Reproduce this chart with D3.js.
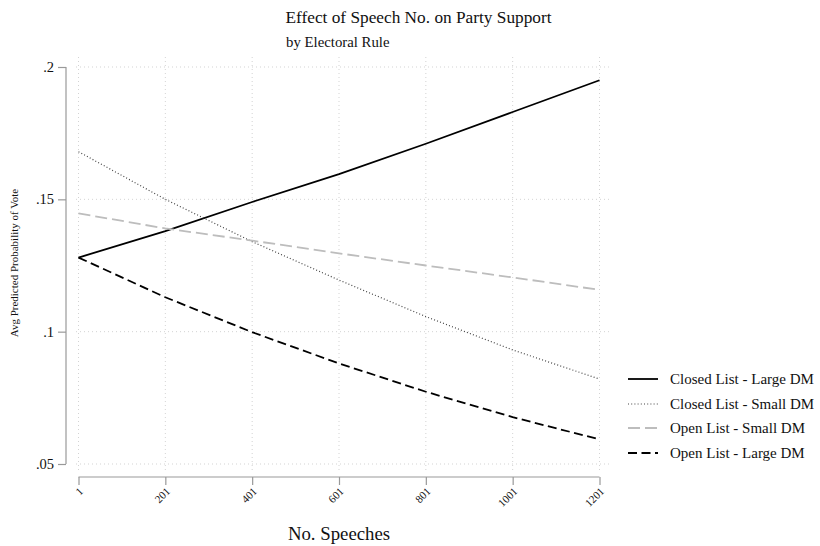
<!DOCTYPE html>
<html><head><meta charset="utf-8">
<script src="https://cdn.jsdelivr.net/npm/d3@7"></script>
<style>body{margin:0;background:#fff}svg{display:block}text{font-family:"Liberation Serif","DejaVu Serif",serif;}</style>
</head><body><svg id="c" width="820" height="546"></svg>
<script>
const speeches = [1, 201, 401, 601, 801, 1001, 1201];
const closedLarge = [0.128, 0.138, 0.149, 0.1595, 0.171, 0.183, 0.195];
const closedSmall = [0.168, 0.150, 0.134, 0.1195, 0.1057, 0.0931, 0.0821];
const openSmall = [0.1447, 0.139, 0.1344, 0.1296, 0.125, 0.1205, 0.1158];
const openLarge = [0.128, 0.113, 0.0998, 0.088, 0.0773, 0.0677, 0.0593];
const seriesNames = ["Closed List - Large DM", "Closed List - Small DM", "Open List - Small DM", "Open List - Large DM"];
const yTicks = [0.05, 0.1, 0.15, 0.2];
const yTickLabels = [".05", ".1", ".15", ".2"];

const series = [
  {name: seriesNames[0], values: closedLarge, color: "#000", dash: null, width: 1.8},
  {name: seriesNames[1], values: closedSmall, color: "#444", dash: "1,2.2", width: 1.2},
  {name: seriesNames[2], values: openSmall, color: "#bdbdbd", dash: "12,5", width: 1.8},
  {name: seriesNames[3], values: openLarge, color: "#000", dash: "9,4.5", width: 1.8}
];

const svg = d3.select("#c");
const x = d3.scaleLinear().domain([1, 1201]).range([78.5, 599.5]);
const y = d3.scaleLinear().domain([0.05, 0.2]).range([464, 67]);

// grid
const grid = svg.append("g");
yTicks.forEach(t => grid.append("line").attr("x1", 76).attr("x2", 611).attr("y1", y(t)).attr("y2", y(t))
  .attr("stroke", "#c8c8c8").attr("stroke-width", 0.8).attr("stroke-dasharray", "1,3"));
speeches.forEach(s => grid.append("line").attr("x1", x(s)).attr("x2", x(s)).attr("y1", 57).attr("y2", 471)
  .attr("stroke", "#c8c8c8").attr("stroke-width", 0.8).attr("stroke-dasharray", "1,3"));

// y axis
const yAxis = d3.axisLeft(y).tickValues(yTicks).tickFormat((d, i) => yTickLabels[i]).tickSize(8).tickPadding(4);
const gy = svg.append("g").attr("transform", "translate(66,0)").call(yAxis);
gy.select(".domain").attr("stroke", "#999").attr("stroke-width", 1.2).attr("d", `M0,${y(0.2)}V${y(0.05)}`);
gy.selectAll(".tick line").attr("stroke", "#999").attr("stroke-width", 1.2);
gy.selectAll(".tick text").attr("font-size", 14.5).attr("fill", "#111").attr("font-family", '"Liberation Serif",serif');

// x axis
const xAxis = d3.axisBottom(x).tickValues(speeches).tickFormat(d3.format("d")).tickSize(8).tickPadding(3);
const gx = svg.append("g").attr("transform", "translate(0,477)").call(xAxis);
gx.select(".domain").attr("stroke", "#999").attr("stroke-width", 1.2).attr("d", `M${x(1)},0H${x(1201)}`);
gx.selectAll(".tick line").attr("stroke", "#999").attr("stroke-width", 1.2);
gx.selectAll(".tick text").attr("font-size", 11).attr("fill", "#111").attr("font-family", '"Liberation Serif",serif')
  .attr("text-anchor", "end").attr("dy", 0)
  .attr("transform", "translate(5,15) rotate(-45)").attr("y", 0).attr("x", 0);

// lines
const line = d3.line().x((d, i) => x(speeches[i])).y(d => y(d));
series.forEach(s => {
  svg.append("path").attr("d", line(s.values)).attr("fill", "none").attr("stroke", s.color)
    .attr("stroke-width", s.width).attr("stroke-dasharray", s.dash);
});

// titles
svg.append("text").attr("x", 418.5).attr("y", 23).attr("text-anchor", "middle").attr("font-size", 17.3).attr("fill", "#111")
  .text("Effect of Speech No. on Party Support");
svg.append("text").attr("x", 286).attr("y", 47).attr("font-size", 14.8).attr("fill", "#111").text("by Electoral Rule");
svg.append("text").attr("transform", "translate(18,263) rotate(-90)").attr("text-anchor", "middle").attr("font-size", 11)
  .attr("fill", "#111").text("Avg Predicted Probability of Vote");
svg.append("text").attr("x", 339).attr("y", 540).attr("text-anchor", "middle").attr("font-size", 18.8).attr("fill", "#111")
  .text("No. Speeches");

// legend
const leg = svg.append("g");
const legY = [379, 404, 428, 453];
series.forEach((s, i) => {
  leg.append("line").attr("x1", 628).attr("x2", 658).attr("y1", legY[i]).attr("y2", legY[i])
    .attr("stroke", s.color).attr("stroke-width", s.width).attr("stroke-dasharray", s.dash);
  leg.append("text").attr("x", 670).attr("y", legY[i]).attr("dy", "0.35em").attr("font-size", 15).attr("fill", "#111").text(s.name);
});
</script></body></html>
